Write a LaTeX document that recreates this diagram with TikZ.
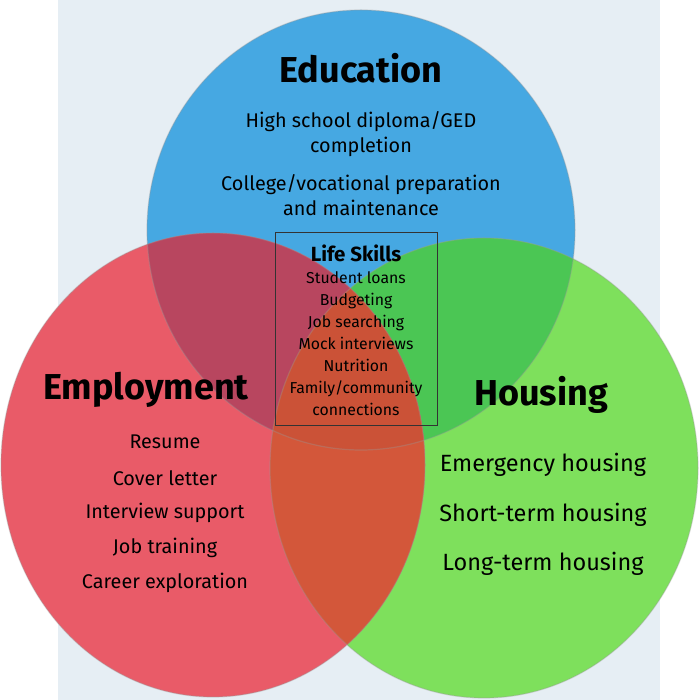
\documentclass[tikz,border=0pt]{standalone}
\usepackage{fontspec}
\setmainfont{Fira Sans}
\usetikzlibrary{positioning}
\definecolor{panel}{HTML}{E6EEF4}
\definecolor{edublue}{HTML}{46A8E2}
\definecolor{empred}{HTML}{E95B68}
\definecolor{housgreen}{HTML}{7EE05C}
\definecolor{bluered}{HTML}{B8465F}
\definecolor{bluegreen}{HTML}{4BC654}
\definecolor{redgreen}{HTML}{D3573A}
\definecolor{allthree}{HTML}{CB5237}
\begin{document}
\begin{tikzpicture}[x=1pt,y=1pt,
    head/.style={font=\bfseries\fontsize{36}{40}\selectfont},
    item/.style={font=\fontsize{19.8}{25}\selectfont, align=center},
    bigitem/.style={font=\fontsize{23.5}{28}\selectfont},
    skill/.style={font=\fontsize{15.8}{22}\selectfont, align=center}]
% ------ background --------------------
\fill[white] (0,0) rectangle (699,700);
\useasboundingbox (0,0) rectangle (699,700);
\fill[panel] (58,0) rectangle (660,700);
% ------ circles --------------------
\fill[edublue] (361,470) ellipse [x radius=214, y radius=220];
\fill[housgreen] (484,232) ellipse [x radius=214, y radius=230];
\begin{scope}
  \clip (361,470) ellipse [x radius=214, y radius=220];
  \fill[bluegreen] (484,232) ellipse [x radius=214, y radius=230];
\end{scope}
\fill[empred] (213,235) ellipse [x radius=212, y radius=232];
\begin{scope}
  \clip (213,235) ellipse [x radius=212, y radius=232];
  \fill[bluered] (361,470) ellipse [x radius=214, y radius=220];
  \fill[redgreen] (484,232) ellipse [x radius=214, y radius=230];
  \clip (361,470) ellipse [x radius=214, y radius=220];
  \fill[allthree] (484,232) ellipse [x radius=214, y radius=230];
\end{scope}
% rims
\draw[black!40, opacity=.35, line width=1.2pt] (361,470) ellipse [x radius=214, y radius=220];
\draw[black!40, opacity=.35, line width=1.2pt] (484,232) ellipse [x radius=214, y radius=230];
\draw[black!40, opacity=.35, line width=1.2pt] (213,235) ellipse [x radius=212, y radius=232];
% ------ Education --------------------
\node[head] (edu) at (361,632) {Education};
\node[item] (edu1) at (361,566) {High school diploma/GED\\completion};
\node[item] (edu2) at (361,505) {College/vocational preparation\\and maintenance};
% ------ Life skills box --------------------
\draw[black!80, line width=.8pt] (275,468) rectangle (437,275);
\node[font=\bfseries\fontsize{20.5}{24}\selectfont] (life) at (356,447) {Life Skills};
\node[skill, below=3pt of life] (skills) {Student loans\\Budgeting\\Job searching\\Mock interviews\\Nutrition\\Family/community\\connections};
% ------ Employment --------------------
\node[head] (emp) at (146,310) {Employment};
\node[item] (emp1) at (165,258) {Resume};
\node[item] (emp2) at (165,222) {Cover letter};
\node[item] (emp3) at (165,187) {Interview support};
\node[item] (emp4) at (165,152) {Job training};
\node[item] (emp5) at (165,117) {Career exploration};
% ------ Housing --------------------
\node[head] (hous) at (541,305) {Housing};
\node[bigitem] (hous1) at (543,235) {Emergency housing};
\node[bigitem] (hous2) at (543,185) {Short-term housing};
\node[bigitem] (hous3) at (543,136) {Long-term housing};
\end{tikzpicture}
\end{document}
